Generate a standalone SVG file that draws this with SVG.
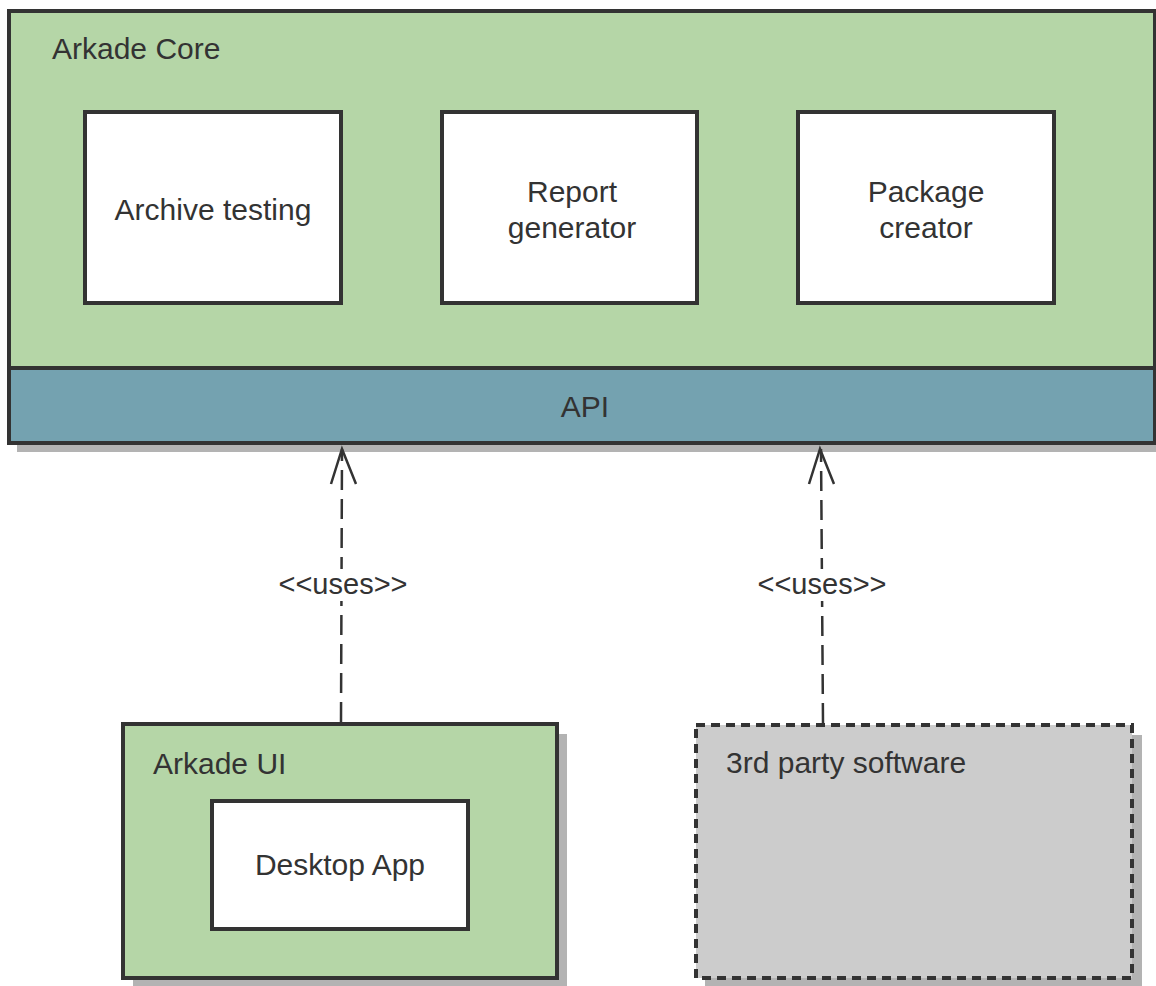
<svg xmlns="http://www.w3.org/2000/svg" width="1156" height="986" viewBox="0 0 1156 986">
<defs>
<style>
text{font-family:"Liberation Sans",Arial,sans-serif;font-size:30px;fill:#333333}
.c{text-anchor:middle}
.box{stroke:#333333;stroke-width:4}
.green{fill:#b5d6a7}
.white{fill:#ffffff}
.shadow{fill:#b3b3b3}
.conn{fill:none;stroke:#333333;stroke-width:2.5;stroke-dasharray:20 9}
.head{fill:none;stroke:#333333;stroke-width:2.5}
.lbl{font-size:29px}
</style>
</defs>
<rect width="1156" height="986" fill="#ffffff"/>
<g id="arkade-core">
<rect class="shadow" x="17" y="19" width="1146" height="433"/>
<rect class="box green" x="9" y="11" width="1146" height="357"/>
<text x="52" y="59">Arkade Core</text>
</g>
<g id="api">
<rect class="box" fill="#74a2b0" x="9" y="368" width="1146" height="75"/>
<text class="c" x="585" y="417">API</text>
</g>
<g id="archive-testing">
<rect class="box white" x="85" y="112" width="256" height="191"/>
<text class="c" x="213" y="220">Archive testing</text>
</g>
<g id="report-generator">
<rect class="box white" x="442" y="112" width="255" height="191"/>
<text class="c" x="572" y="202">Report</text>
<text class="c" x="572" y="238">generator</text>
</g>
<g id="package-creator">
<rect class="box white" x="798" y="112" width="256" height="191"/>
<text class="c" x="926" y="202">Package</text>
<text class="c" x="926" y="238">creator</text>
</g>
<g id="arkade-ui">
<rect class="shadow" x="133" y="734" width="434" height="252"/>
<rect class="box green" x="123" y="724" width="434" height="254"/>
<text x="153" y="774">Arkade UI</text>
</g>
<g id="desktop-app">
<rect class="box white" x="212" y="801" width="256" height="128"/>
<text class="c" x="340" y="875">Desktop App</text>
</g>
<g id="third-party">
<rect class="shadow" x="705" y="735" width="437" height="251"/>
<rect class="box" fill="#cccccc" stroke-dasharray="9 6" x="696" y="725" width="436" height="253"/>
<text x="726" y="773">3rd party software</text>
</g>
<g id="connectors">
<line class="conn" x1="341" y1="722" x2="342" y2="449"/>
<polyline class="head" points="331,484 342,449 356,484"/>
<rect x="276" y="569" width="134" height="32" fill="#ffffff"/>
<text class="c lbl" x="343" y="594">&lt;&lt;uses&gt;&gt;</text>
<line class="conn" x1="823" y1="723" x2="821" y2="449"/>
<polyline class="head" points="809,484 820,449 834,484"/>
<rect x="755" y="569" width="134" height="32" fill="#ffffff"/>
<text class="c lbl" x="822" y="594">&lt;&lt;uses&gt;&gt;</text>
</g>
</svg>
